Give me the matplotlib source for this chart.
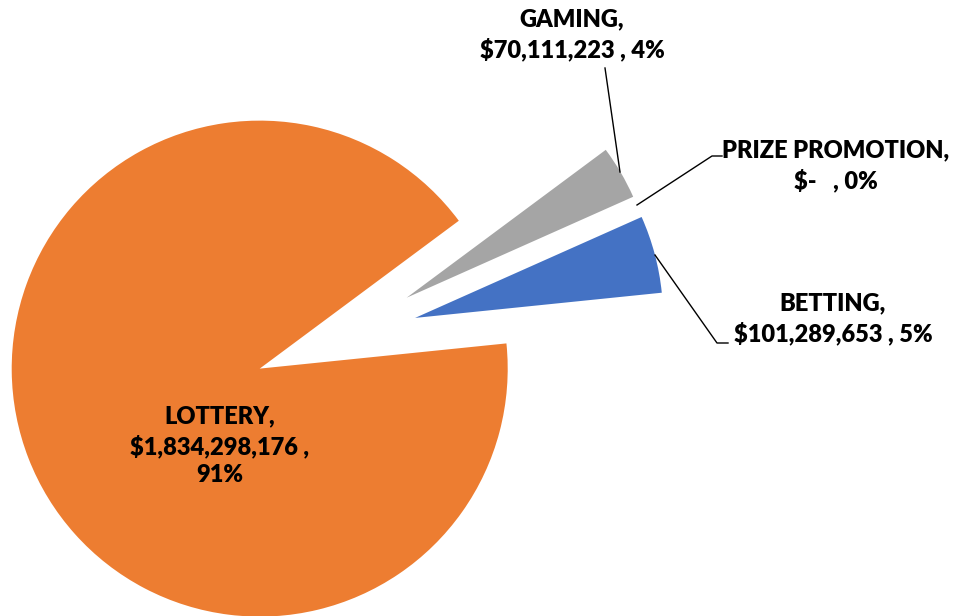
import numpy as np
import matplotlib.pyplot as plt

labels = ["GAMING", "PRIZE PROMOTION", "BETTING", "LOTTERY"]
values = [70111223, 0, 101289653, 1834298176]
value_text = ["$70,111,223 ", "$-   ", "$101,289,653 ", "$1,834,298,176 "]
pct = [4, 0, 5, 91]
colors = ["#A5A5A5", "#FFC000", "#4472C4", "#ED7D31"]

plt.rcParams['font.family'] = ['Lato', 'DejaVu Sans']

W, H, dpi = 958, 616, 100
fig = plt.figure(figsize=(W / dpi, H / dpi), dpi=dpi)
ax = fig.add_axes([0, 0, 1, 1])

R = 248.0   # radius in px
cx, cy = 336.0, 339.0

explode = 0.33
wedges, _ = ax.pie(values, colors=colors, startangle=36.6, counterclock=False,
                   explode=[explode] * len(values), radius=1.0,
                   wedgeprops=dict(linewidth=0))
ax.set_xlim(-cx / R, (W - cx) / R)
ax.set_ylim(-(H - cy) / R, cy / R)
ax.set_aspect('equal')
ax.axis('off')

txt = [f"{l},\n{v}, {p}%" for l, v, p in zip(labels, value_text, pct)]
txt[3] = f"{labels[3]},\n{value_text[3]},\n{pct[3]}%"


def px(x, y):
    return (x - cx) / R, (cy - y) / R


fs = 17
kw = dict(fontsize=fs, fontweight='heavy', ha='center', va='center',
          linespacing=1.35, color='black')

# lottery inside
ax.text(*px(220, 446), txt[3], **kw)

# gaming
ax.text(*px(572, 35), txt[0], **kw)
ax.plot(*zip(px(605, 68), px(620, 172)), color='black', lw=1)

# prize promotion
ax.text(*px(836, 166), txt[1], **kw)
ax.plot(*zip(px(637, 205), px(712, 156), px(722, 156)), color='black', lw=1)

# betting
ax.text(*px(833, 319), txt[2], **kw)
ax.plot(*zip(px(655, 255), px(717, 343), px(728, 343)), color='black', lw=1)

fig.savefig("out.png", dpi=dpi)
